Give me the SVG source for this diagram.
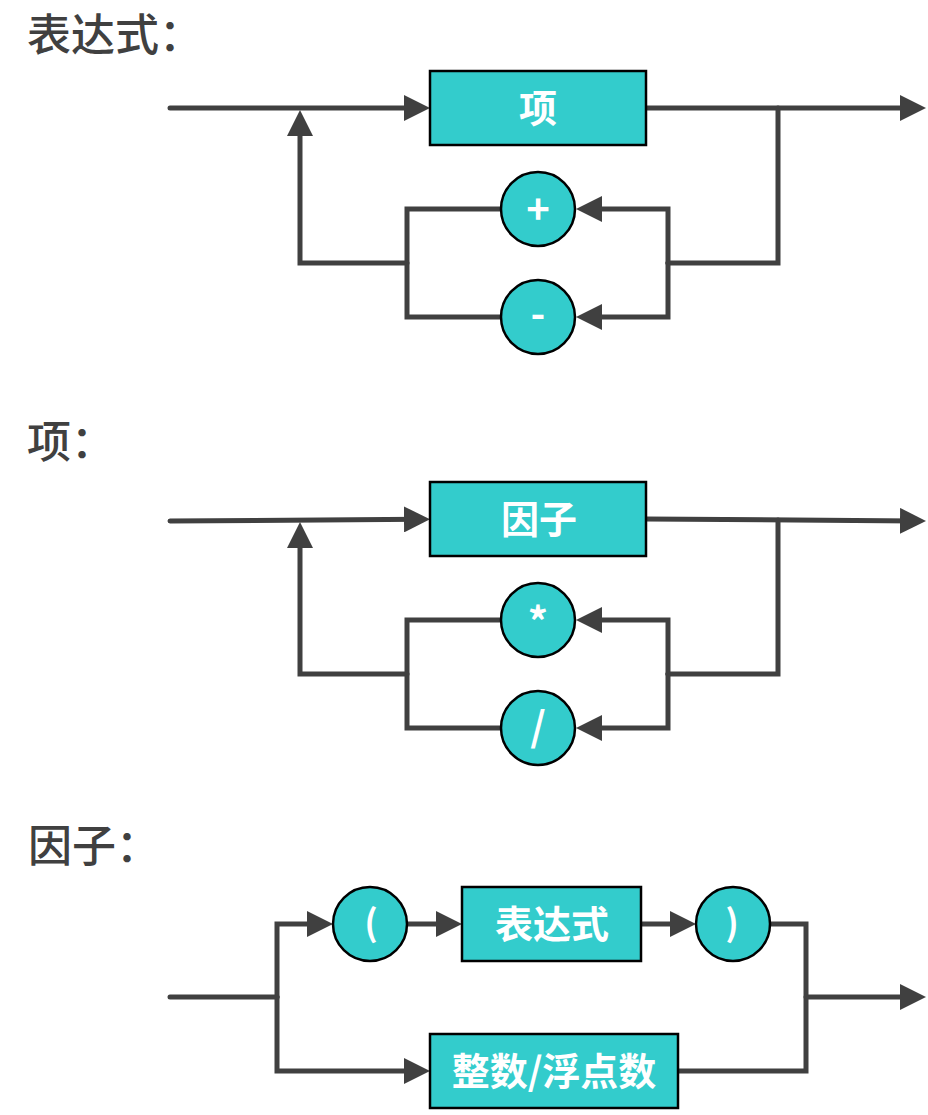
<svg xmlns="http://www.w3.org/2000/svg" width="928" height="1115" viewBox="0 0 928 1115">
<style>
.title{font-family:"Noto Sans CJK SC","Noto Sans",sans-serif;font-size:44px;fill:#404040;font-weight:500}
.lbl{font-family:"Noto Sans CJK SC","Noto Sans",sans-serif;font-size:38px;fill:#ffffff;font-weight:bold;text-anchor:middle}
.sym{font-family:"Noto Sans CJK SC","Noto Sans",sans-serif;font-size:40px;fill:#ffffff;font-weight:bold;text-anchor:middle}
.par{font-size:36px}
.node{fill:#33CCCC;stroke:#000000;stroke-width:2.5}
.c{fill:none;stroke:#404040;stroke-width:5;stroke-linecap:round;stroke-linejoin:miter}
.a{marker-end:url(#arr)}
</style>
<defs>
<marker id="arr" markerUnits="userSpaceOnUse" markerWidth="26" markerHeight="26" refX="16" refY="13" orient="auto" viewBox="0 0 26 26">
<path d="M0,0 L26,13 L0,26 Z" fill="#404040"/>
</marker>
</defs>

<text class="title" x="27" y="51">表达式：</text>
<text class="title" x="27" y="458">项：</text>
<text class="title" x="28" y="862">因子：</text>

<g id="connectors">
<!-- section 1 -->
<path class="c a" d="M170,108 H420"/>
<path class="c a" d="M646,108 H916"/>
<path class="c" d="M778,108 V263 H668"/>
<path class="c a" d="M668,263 V209 H586"/>
<path class="c a" d="M668,263 V317 H586"/>
<path class="c" d="M501,209 H407 V317 H501"/>
<path class="c a" d="M407,263 H300 V120"/>
<!-- section 2 -->
<path class="c a" d="M170,521 L420,519.3"/>
<path class="c a" d="M646,519 L916,521"/>
<path class="c" d="M778,520 V674 H668"/>
<path class="c a" d="M668,674 V620 H586"/>
<path class="c a" d="M668,674 V728 H586"/>
<path class="c" d="M501,620 H407 V728 H501"/>
<path class="c a" d="M407,674 H300 V532"/>
<!-- section 3 -->
<path class="c" d="M170,997 H277"/>
<path class="c a" d="M277,997 V924 H323"/>
<path class="c a" d="M277,997 V1071 H420"/>
<path class="c a" d="M407,924 H452"/>
<path class="c a" d="M641,924 H686"/>
<path class="c" d="M770,924 H806 V1071 H678"/>
<path class="c a" d="M806,997 H916"/>
</g>

<g id="n-xiang">
<rect class="node" x="430" y="71" width="216" height="74"/>
<text class="lbl" x="538" y="122">项</text>
</g>
<g id="n-plus">
<circle class="node" cx="538" cy="209" r="37"/>
<text class="sym" x="538" y="224">+</text>
</g>
<g id="n-minus">
<circle class="node" cx="538" cy="317" r="37"/>
<text class="sym" x="538" y="328">-</text>
</g>

<g id="n-yinzi">
<rect class="node" x="430" y="482" width="216" height="74"/>
<text class="lbl" x="539" y="533">因子</text>
</g>
<g id="n-mul">
<circle class="node" cx="538" cy="620" r="37"/>
<text class="sym" x="538" y="637">*</text>
</g>
<g id="n-div">
<circle class="node" cx="538" cy="728" r="37"/>
<text class="sym" x="538" y="741">/</text>
</g>

<g id="n-lparen">
<circle class="node" cx="370" cy="924" r="37"/>
<text class="sym par" x="371" y="936">(</text>
</g>
<g id="n-expr">
<rect class="node" x="462" y="887" width="179" height="74"/>
<text class="lbl" x="552" y="938">表达式</text>
</g>
<g id="n-rparen">
<circle class="node" cx="733" cy="924" r="37"/>
<text class="sym par" x="732" y="936">)</text>
</g>
<g id="n-num">
<rect class="node" x="430" y="1034" width="248" height="74"/>
<text class="lbl" x="554" y="1085">整数/浮点数</text>
</g>
</svg>
